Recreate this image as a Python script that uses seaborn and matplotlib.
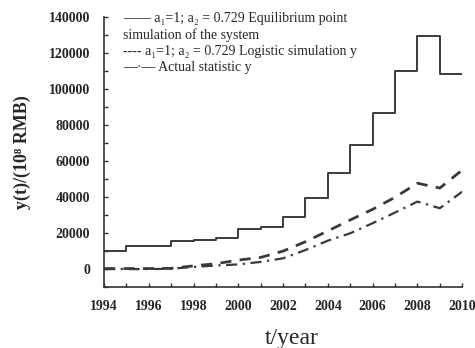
import numpy as np
import pandas as pd
import matplotlib
matplotlib.use("Agg")
import matplotlib.pyplot as plt
from matplotlib.ticker import MultipleLocator
import seaborn as sns

# values
years = list(range(1994, 2011))
equilibrium = [10200, 12800, 12800, 15800, 16200, 17300, 22300, 23600, 29100,
               39400, 53300, 68700, 86700, 110300, 129400, 108100, 108100]
logistic = [300, 300, 300, 400, 1800, 3000, 5000, 6500, 10000,
            15200, 21200, 27300, 33200, 39900, 47700, 45000, 55000]
actual = [0, 0, 0, 200, 1200, 2000, 2600, 4000, 6000,
          10600, 15800, 19900, 25500, 31400, 37500, 33800, 43000]

legend_lines = [
    "\u2014\u2014 a\u2081=1; a\u2082 = 0.729 Equilibrium point",
    "simulation of the system",
    "---- a\u2081=1; a\u2082 = 0.729 Logistic simulation y",
    "\u2014\u00b7\u2014 Actual statistic y",
]

sns.set_style("ticks")
plt.rcParams['font.family'] = ['Liberation Serif', 'DejaVu Serif']

fig = plt.figure(figsize=(4.75, 3.48), dpi=100)
ax = fig.add_axes([0.219, 0.175, 0.754, 0.776])

col = "#3a3a3a"
sns.lineplot(x=years, y=equilibrium, ax=ax, color=col, lw=1.4, drawstyle="steps-post")
sns.lineplot(x=years, y=logistic, ax=ax, color=col, lw=2.0, linestyle=(0, (4, 3)))
sns.lineplot(x=years, y=actual, ax=ax, color=col, lw=1.6, linestyle=(0, (5, 2.5, 1, 2.5)))

ax.set_xlim(1994, 2010)
ax.set_ylim(-10000, 140000)
ax.xaxis.set_major_locator(MultipleLocator(2))
ax.xaxis.set_minor_locator(MultipleLocator(1))
ax.yaxis.set_major_locator(MultipleLocator(20000))
ax.yaxis.set_minor_locator(MultipleLocator(10000))
ax.set_yticks(range(0, 140001, 20000))
ax.tick_params(which="both", direction="in", length=3, width=1, color="#333333")
ax.tick_params(axis="y", pad=10, labelsize=10)
ax.tick_params(axis="x", pad=9, labelsize=10)
for lab in ax.get_xticklabels() + ax.get_yticklabels():
    lab.set_fontweight("bold")

sns.despine(ax=ax)
for s in ["left", "bottom"]:
    ax.spines[s].set_color("#333333")
    ax.spines[s].set_linewidth(1.2)

ax.set_ylabel("y(t)/(10\u2078 RMB)", fontsize=13, fontweight="bold")
ax.yaxis.set_label_coords(-0.205, 0.5)
ax.set_xlabel("t/year", fontsize=17)
ax.xaxis.set_label_coords(0.525, -0.15)

ax.text(0.053, 1.02, "\n".join(legend_lines), transform=ax.transAxes,
        fontsize=10, va="top", ha="left", linespacing=1.3)

fig.savefig("out.png", dpi=100)
